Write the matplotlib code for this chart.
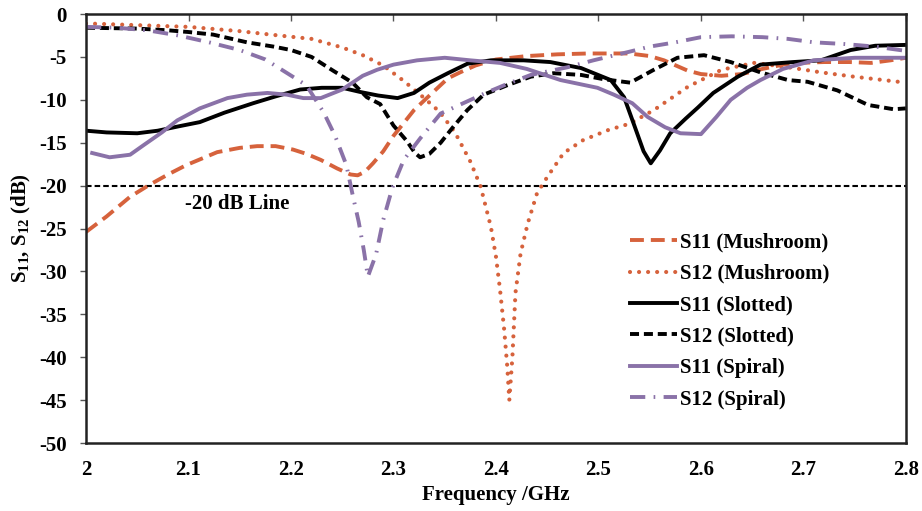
import numpy as np
import matplotlib
matplotlib.use("Agg")
import matplotlib.pyplot as plt

plt.rcParams['font.family'] = ['Liberation Serif', 'DejaVu Serif']
plt.rcParams['font.weight'] = 'bold'
plt.rcParams['mathtext.fontset'] = 'custom'
plt.rcParams['mathtext.rm'] = 'Liberation Serif:bold'
plt.rcParams['mathtext.it'] = 'Liberation Serif:bold'
plt.rcParams['lines.scale_dashes'] = False
plt.rcParams['axes.unicode_minus'] = False

# (GHz, dB)
f_s11_mush = [2.0, 2.02, 2.043, 2.062, 2.08, 2.098, 2.128, 2.15, 2.167, 2.185, 2.202, 2.215,
              2.229, 2.245, 2.258, 2.265, 2.272, 2.28, 2.29, 2.3, 2.32, 2.336, 2.353, 2.365,
              2.38, 2.4, 2.43, 2.46, 2.49, 2.53, 2.55, 2.564, 2.587, 2.6, 2.62, 2.64, 2.66,
              2.68, 2.695, 2.72, 2.745, 2.766, 2.785, 2.8]
s11_mush = [-25.4, -23.6, -21.3, -19.9, -18.7, -17.6, -16.1, -15.6, -15.4, -15.4, -15.8, -16.3,
            -17.0, -18.0, -18.7, -18.8, -18.4, -17.4, -16.0, -14.2, -11.2, -9.4, -7.5, -6.8,
            -6.0, -5.3, -4.9, -4.7, -4.6, -4.6, -4.9, -5.4, -6.6, -7.0, -7.2, -7.0, -6.4,
            -5.9, -5.7, -5.6, -5.6, -5.7, -5.4, -5.1]

f_s12_mush = [2.0, 2.05, 2.1, 2.15, 2.18, 2.22, 2.25, 2.27, 2.29, 2.31, 2.33, 2.345, 2.36,
              2.375, 2.385, 2.395, 2.4, 2.404, 2.408, 2.411, 2.413, 2.416, 2.419, 2.424,
              2.431, 2.44, 2.45, 2.466, 2.485, 2.51, 2.53, 2.554, 2.587, 2.62, 2.652,
              2.685, 2.717, 2.749, 2.8]
s12_mush = [-1.1, -1.3, -1.5, -2.0, -2.4, -2.9, -3.9, -4.8, -6.0, -7.8, -9.8, -11.4, -13.8,
            -17.2, -20.1, -24.8, -28.3, -32.2, -36.8, -41.1, -45.0, -40.0, -32.5, -27.9,
            -24.4, -20.9, -19.0, -16.2, -14.7, -13.5, -12.8, -11.2, -8.5, -6.5, -5.7,
            -6.2, -6.8, -7.3, -8.0]

f_s11_slot = [2.0, 2.02, 2.05, 2.07, 2.09, 2.111, 2.135, 2.163, 2.185, 2.209, 2.23, 2.25,
              2.268, 2.285, 2.304, 2.32, 2.335, 2.353, 2.372, 2.395, 2.427, 2.453, 2.483,
              2.512, 2.525, 2.535, 2.544, 2.551, 2.56, 2.57, 2.585, 2.597, 2.612, 2.636,
              2.658, 2.69, 2.717, 2.746, 2.77, 2.8]
s11_slot = [-13.6, -13.8, -13.9, -13.6, -13.1, -12.6, -11.5, -10.4, -9.6, -8.8, -8.6, -8.6,
            -9.1, -9.5, -9.8, -9.2, -8.0, -6.9, -5.8, -5.4, -5.4, -5.6, -6.3, -7.7, -9.7,
            -13.0, -16.0, -17.4, -15.9, -13.9, -12.2, -10.9, -9.2, -7.3, -5.9, -5.6, -5.4,
            -4.2, -3.7, -3.6]

f_s12_slot = [2.0, 2.05, 2.08, 2.1, 2.124, 2.157, 2.183, 2.2, 2.22, 2.241, 2.26, 2.274, 2.287,
              2.3, 2.313, 2.321, 2.326, 2.335, 2.346, 2.358, 2.372, 2.388, 2.411, 2.434,
              2.456, 2.483, 2.505, 2.531, 2.554, 2.577, 2.603, 2.629, 2.658, 2.685, 2.704,
              2.733, 2.763, 2.788, 2.8]
s12_slot = [-1.6, -1.7, -1.9, -2.1, -2.4, -3.3, -3.8, -4.2, -5.0, -6.6, -8.0, -9.7, -10.5,
            -13.0, -14.8, -16.2, -16.7, -16.3, -15.0, -13.2, -11.2, -9.4, -8.3, -7.3, -6.9,
            -7.1, -7.6, -8.0, -6.5, -5.1, -4.8, -5.6, -6.8, -7.7, -7.9, -8.9, -10.6, -11.1,
            -11.0]

f_s11_spir = [2.006, 2.023, 2.043, 2.056, 2.074, 2.089, 2.111, 2.138, 2.157, 2.177, 2.196,
              2.212, 2.229, 2.25, 2.27, 2.284, 2.3, 2.323, 2.35, 2.375, 2.404, 2.43, 2.463,
              2.499, 2.515, 2.533, 2.548, 2.565, 2.58, 2.6, 2.615, 2.629, 2.645, 2.658, 2.68,
              2.71, 2.75, 2.8]
s11_spir = [-16.2, -16.7, -16.4, -15.3, -13.8, -12.4, -11.0, -9.8, -9.4, -9.2, -9.4, -9.8,
            -9.8, -8.8, -7.2, -6.5, -5.9, -5.4, -5.1, -5.4, -5.7, -6.4, -7.7, -8.6, -9.4,
            -10.4, -12.0, -13.2, -13.9, -14.0, -12.0, -10.0, -8.6, -7.7, -6.4, -5.4, -5.1,
            -5.1]

f_s12_spir = [2.0, 2.03, 2.06, 2.09, 2.12, 2.15, 2.175, 2.195, 2.215, 2.232, 2.243, 2.254,
              2.26, 2.266, 2.271, 2.275, 2.283, 2.29, 2.299, 2.31, 2.326, 2.346, 2.368, 2.39,
              2.41, 2.434, 2.47, 2.495, 2.53, 2.55, 2.575, 2.6, 2.63, 2.66, 2.685, 2.71,
              2.74, 2.77, 2.8]
s12_spir = [-1.5, -1.6, -1.9, -2.5, -3.3, -4.2, -5.3, -6.8, -8.3, -11.5, -14.2, -17.6, -21.0,
            -24.2, -27.5, -30.6, -28.0, -24.0, -20.2, -17.0, -14.5, -11.6, -10.4, -9.2, -8.2,
            -7.1, -6.2, -5.4, -4.4, -3.8, -3.3, -2.7, -2.6, -2.7, -2.9, -3.3, -3.5, -3.8,
            -4.3]

xticks = [2.0, 2.1, 2.2, 2.3, 2.4, 2.5, 2.6, 2.7, 2.8]
xticklabels = ['2', '2.1', '2.2', '2.3', '2.4', '2.5', '2.6', '2.7', '2.8']
yticks = list(range(-50, 1, 5))

orange = '#D6623C'
purple = '#8A72A8'

fig = plt.figure(figsize=(9.22, 5.11), dpi=100)
ax = fig.add_axes([0.0933, 0.133, 0.8893, 0.8396])

ax.axhline(-20, color='black', lw=1.5, dashes=(4, 2.2), zorder=1)
ax.text(2.097, -22.1, '-20 dB Line', fontsize=15, fontweight='bold', va='center', ha='left')

ax.plot(f_s11_mush, s11_mush, color=orange, lw=2.8, dashes=(10, 5), label='S11 (Mushroom)')
ax.plot(f_s12_mush, s12_mush, color=orange, lw=3.0, dashes=(0.01, 6.5),
        dash_capstyle='round', label='S12 (Mushroom)')
ax.plot(f_s11_slot, s11_slot, color='black', lw=2.8, label='S11 (Slotted)')
ax.plot(f_s12_slot, s12_slot, color='black', lw=2.8, dashes=(6.5, 3.5), label='S12 (Slotted)')
ax.plot(f_s11_spir, s11_spir, color=purple, lw=2.8, label='S11 (Spiral)')
ax.plot(f_s12_spir, s12_spir, color=purple, lw=2.8, dashes=(11, 6, 1.2, 6),
        label='S12 (Spiral)')

ax.set_xlim(2.0, 2.8)
ax.set_ylim(-50, 0)
ax.set_xticks(xticks)
ax.set_xticklabels(xticklabels)
ax.set_yticks(yticks)
ax.tick_params(axis='x', top=True, bottom=False, labeltop=False, labelbottom=True,
               direction='in', length=5, width=1, color='#555555', pad=12, labelsize=15)
ax.tick_params(axis='y', direction='out', length=4, width=1, color='#555555', pad=10,
               labelsize=15)
for sp in ax.spines.values():
    sp.set_linewidth(1.8)
    sp.set_color('#222222')

ax.set_xlabel('Frequency /GHz', fontsize=15, fontweight='bold', labelpad=4)
ax.set_ylabel('S$_{11}$, S$_{12}$ (dB)', fontsize=15, fontweight='bold', labelpad=4)

leg = ax.legend(loc='upper left', bbox_to_anchor=(0.646, 0.525), frameon=False, fontsize=15,
                handlelength=2.25, handletextpad=0.15, labelspacing=0.55, borderpad=0.2)

fig.savefig('out.png', dpi=100)
